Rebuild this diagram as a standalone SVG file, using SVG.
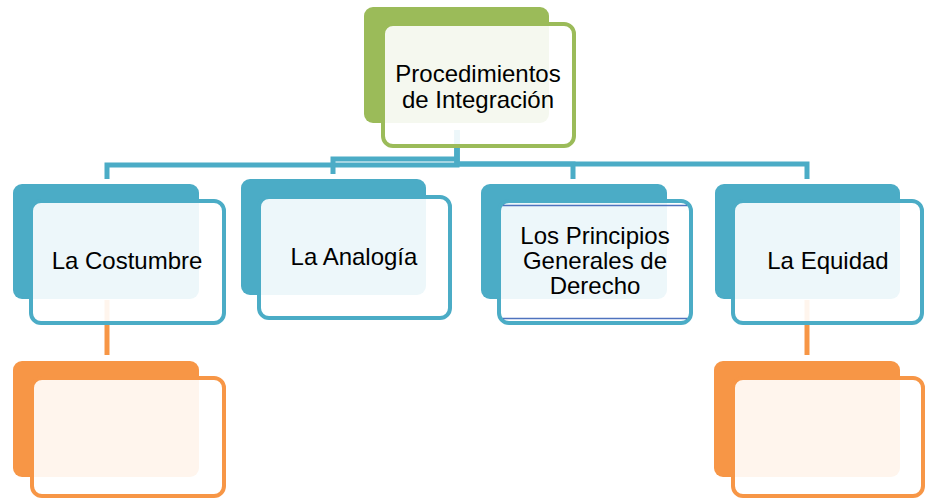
<svg xmlns="http://www.w3.org/2000/svg" width="925" height="499" viewBox="0 0 925 499">
<style>
.t{font-family:"Liberation Sans",Arial,sans-serif;font-size:24px;fill:#000;text-anchor:middle}
.c{fill:none;stroke:#4bacc6;stroke-width:5}
.co{fill:none;stroke:#f79646;stroke-width:5}
.bg{fill:#9bbb59}.fg{fill:#fff;fill-opacity:.9;stroke:#9bbb59;stroke-width:4}
.bb{fill:#4bacc6}.fb{fill:#fff;fill-opacity:.9;stroke:#4bacc6;stroke-width:4}
.bo{fill:#f79646}.fo{fill:#fff;fill-opacity:.9;stroke:#f79646;stroke-width:4}
</style>
<g id="connectors">
<path class="c" d="M457,130 V165 H107 V179"/>
<path class="c" d="M457,130 V159 H333 V174"/>
<path class="c" d="M457,130 V164 H573 V179"/>
<path class="c" d="M457,130 V164 H807 V179"/>
<path class="co" d="M107,300 V355"/>
<path class="co" d="M807,300 V355"/>
</g>
<g id="n-procedimientos">
<rect class="bg" x="364" y="7" width="185" height="116" rx="9"/>
<rect class="fg" x="383" y="24" width="191" height="122" rx="10"/>
<text class="t" x="478" y="82">Procedimientos</text>
<text class="t" x="478" y="107.5">de Integración</text>
</g>
<g id="n-costumbre">
<rect class="bb" x="13" y="184" width="186" height="115" rx="9"/>
<rect class="fb" x="31" y="201" width="193" height="122" rx="10"/>
<text class="t" x="127" y="269">La Costumbre</text>
</g>
<g id="n-analogia">
<rect class="bb" x="241" y="179" width="185" height="116" rx="9"/>
<rect class="fb" x="259" y="197" width="191" height="121" rx="10"/>
<text class="t" x="354" y="265">La Analogía</text>
</g>
<g id="n-principios">
<rect class="bb" x="481" y="184" width="186" height="115" rx="9"/>
<rect class="fb" x="499" y="201" width="192" height="122" rx="10"/>
<path d="M503,205.5 H687 M503,318.5 H687" stroke="#4f73be" stroke-width="1.5" fill="none"/>
<text class="t" x="595" y="244">Los Principios</text>
<text class="t" x="595" y="269">Generales de</text>
<text class="t" x="595" y="294">Derecho</text>
</g>
<g id="n-equidad">
<rect class="bb" x="715" y="184" width="185" height="115" rx="9"/>
<rect class="fb" x="733" y="201" width="189" height="122" rx="10"/>
<text class="t" x="828" y="269">La Equidad</text>
</g>
<g id="n-orange-left">
<rect class="bo" x="13" y="361" width="186" height="116" rx="9"/>
<rect class="fo" x="32" y="378" width="192" height="118" rx="10"/>
</g>
<g id="n-orange-right">
<rect class="bo" x="714" y="361" width="186" height="116" rx="9"/>
<rect class="fo" x="733" y="378" width="190" height="118" rx="10"/>
</g>
</svg>
